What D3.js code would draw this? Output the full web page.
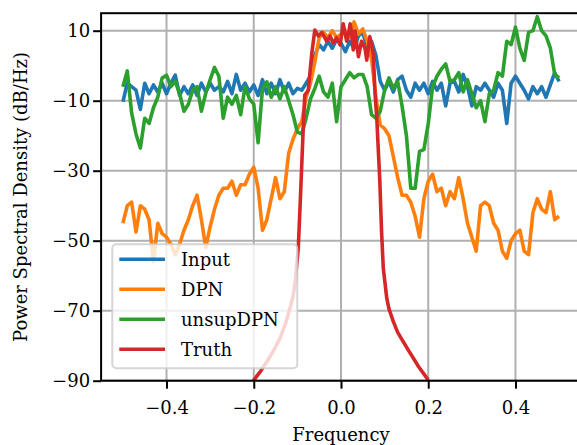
<!DOCTYPE html>
<html>
<head>
<meta charset="utf-8">
<script src="https://cdn.jsdelivr.net/npm/d3@7"></script>
<style>
body{margin:0;background:#fff}
text{font-family:"DejaVu Serif",serif}
</style>
</head>
<body>
<svg width="577" height="445"></svg>
<script>
// frequency grid, -0.5 .. 0.5 step 0.01
const freq=d3.range(101).map(i=>+(-0.5+i*0.01).toFixed(2))
const input=[-10.3,-5,-6,-7,-12.5,-5,-8,-5.5,-7.5,-5,
-8,-5,-2.7,-8.5,-6,-8,-5.5,-8.5,-5,-7.5,
-5,-7,-6,-7.5,-4.5,-8,-2.5,-7,-5,-7.5,
-5.5,-8.5,-4,-8,-5,-8,-4,-7.5,-5,-8,
-6.5,-7,-5,-3,3,6,4.5,7,5,7.5,
6.5,4,7,5,8.5,9.5,5,7,3,-4.5,
-7,-4.5,-7.5,-4,-3,-7,-9,-5,-7,-5,
-8,-4.5,-7,-5,-11.5,-5,-4.5,-7.5,-2.5,-6,
-11.5,-6,-7,-5,-7,-9,-5,-7,-16.5,-5,
-3,-5,-7,-9.5,-6,-8,-6,-9,-5.5,-2,-4.5]
const dpn=[-45,-40,-39,-47.5,-40,-41,-44,-56,-45,-48,
-49,-51,-54,-51,-47,-44,-40,-37,-44,-52,
-46,-41,-37,-35,-35,-33,-37,-34,-34,-31,
-29,-35,-47,-44,-38,-32,-38,-36,-25,-21,
-18,-16,-9,-5,1,8,9.5,8,10,8,
9,10,8,12.5,9,10.5,7,2,-9,-17,
-18,-20,-26,-32,-37,-37,-39,-43,-49,-38,
-33,-31,-36,-35,-40,-36,-38,-32,-38,-45,
-49,-53,-40,-39,-40,-45,-47,-53,-55,-50,
-48,-47,-53,-54,-42,-38,-41,-42,-36,-44,-43]
const unsupDpn=[-6,-1.5,-13.5,-19.5,-23.5,-15,-16.5,-12,-9,-3.5,
-2.7,-6,-4.5,-8,-13,-11,-7,-6,-13,-7.8,
-4,-0.5,-3,-15,-9,-11,-8.5,-14,-6,-9.5,
-11,-22,-6.5,-4.6,-9,-6,-9.5,-6,-10,-14,
-19,-19.5,-15,-9.5,-6.5,-3,-7.5,-9,-5,-16,
-6,-4,-2,-3.5,-2.5,-2.5,-6,-14,-15,-13,
-7,-3.5,-6.5,-4.5,-11.5,-20,-35,-35,-24.5,-24,
-16.5,-6,-3,-1,0.5,-4.5,-4,-2,-7.5,-4,
-8,-12,-10,-16,-8,-7,-2,-3,7,6,
11,5,1.5,9.5,10,14,10,8.5,5,-2.5,-3.5]
const truthFreq=[-0.201,-0.185,-0.17,-0.155,-0.14,-0.128,-0.117,-0.11,-0.105,-0.098,-0.094,-0.09,-0.086,-0.083,
-0.075,-0.067,-0.06,-0.052,-0.044,-0.033,-0.025,-0.018,-0.01,-0.002,
0.005,0.013,0.017,0.021,0.025,0.028,0.032,0.04,0.047,0.055,
0.059,0.066,0.074,0.078,0.082,0.089,0.093,0.097,0.105,0.11,0.12,0.13,
0.143,0.155,0.166,0.178,0.189,0.2]
const truthPsd=[-90,-87.4,-84.6,-81.5,-77.9,-74,-69.3,-66,-61.7,-52.2,-40.7,-28.4,-16,-8.4,
-7,3.5,10.2,8.5,9.5,7,8.5,6.5,8,5.9,
12,7,9,12,9,4.5,10,2.6,7,5,
1.6,8.3,3.5,-7.8,-15,-33,-47.4,-57.9,-66.5,-69.5,-73.1,-76.2,
-78.9,-81.4,-83.6,-86,-87.9,-89.8]
const xTicks=[-0.4,-0.2,0,0.2,0.4]
const yTicks=[-90,-70,-50,-30,-10,10]
const names=["Input","DPN","unsupDPN","Truth"]
const colors=["#1f77b4","#ff7f0e","#2ca02c","#d62728"]

const svg=d3.select("svg")
const x=d3.scaleLinear().domain([-0.55,0.55]).range([101.1,580.9])
const y=d3.scaleLinear().domain([-90,15]).range([380.7,13.2])
const pTop=y.range()[1],pBot=y.range()[0],pLeft=x.range()[0],pRight=x.range()[1]

svg.append("clipPath").attr("id","clip").append("rect")
.attr("x",pLeft).attr("y",pTop).attr("width",pRight-pLeft).attr("height",pBot-pTop)

// grid
const grid=svg.append("g").attr("stroke","#b0b0b0").attr("stroke-width",2)
grid.selectAll(".gx").data(xTicks).join("line").attr("class","gx")
.attr("x1",d=>x(d)).attr("x2",d=>x(d)).attr("y1",pTop).attr("y2",pBot)
grid.selectAll(".gy").data(yTicks).join("line").attr("class","gy")
.attr("y1",d=>y(d)).attr("y2",d=>y(d)).attr("x1",pLeft).attr("x2",pRight)

const series=[
freq.map((f,i)=>[f,input[i]]),
freq.map((f,i)=>[f,dpn[i]]),
freq.map((f,i)=>[f,unsupDpn[i]]),
truthFreq.map((f,i)=>[f,truthPsd[i]])]
const line=d3.line().x(d=>x(d[0])).y(d=>y(d[1]))
svg.append("g").attr("clip-path","url(#clip)")
.selectAll("path").data(series).join("path")
.attr("d",line).attr("fill","none")
.attr("stroke",(d,i)=>colors[i]).attr("stroke-width",3.6)
.attr("stroke-linejoin","round")

// axes
const fmtX=d3.format(".1f")
const xa=svg.append("g").attr("transform",`translate(0,${pBot})`)
.call(d3.axisBottom(x).tickValues(xTicks).tickSize(8).tickPadding(13).tickFormat(fmtX))
const ya=svg.append("g").attr("transform",`translate(${pLeft},0)`)
.call(d3.axisLeft(y).tickValues(yTicks).tickSize(8).tickPadding(3))
;[xa,ya].forEach(a=>{
a.select(".domain").remove()
a.selectAll(".tick line").attr("stroke","#000").attr("stroke-width",2)
a.selectAll("text").attr("font-size",18).attr("font-family","DejaVu Serif").attr("fill","#000")
})
svg.append("rect").attr("x",pLeft).attr("y",pTop).attr("width",pRight-pLeft).attr("height",pBot-pTop)
.attr("fill","none").attr("stroke","#000").attr("stroke-width",2)

svg.append("text").attr("x",x(0)).attr("y",441).attr("text-anchor","middle")
.attr("font-size",18).text("Frequency")
svg.append("text").attr("transform",`translate(27,${(pTop+pBot)/2}) rotate(-90)`)
.attr("text-anchor","middle").attr("font-size",18).text("Power Spectral Density (dB/Hz)")

// legend
const lg=svg.append("g")
lg.append("rect").attr("x",112.3).attr("y",244.3).attr("width",185).attr("height",124).attr("rx",4)
.attr("fill","#fff").attr("fill-opacity",0.8).attr("stroke","#cccccc").attr("stroke-opacity",0.8).attr("stroke-width",2)
const it=lg.selectAll(".it").data(names).join("g").attr("class","it")
.attr("transform",(d,i)=>`translate(0,${259.3+i*30})`)
it.append("line").attr("x1",119.3).attr("x2",165).attr("stroke",(d,i)=>colors[i]).attr("stroke-width",3.6)
it.append("text").attr("x",181).attr("dy","0.35em").attr("font-size",18).text(d=>d)
</script>
</body>
</html>
